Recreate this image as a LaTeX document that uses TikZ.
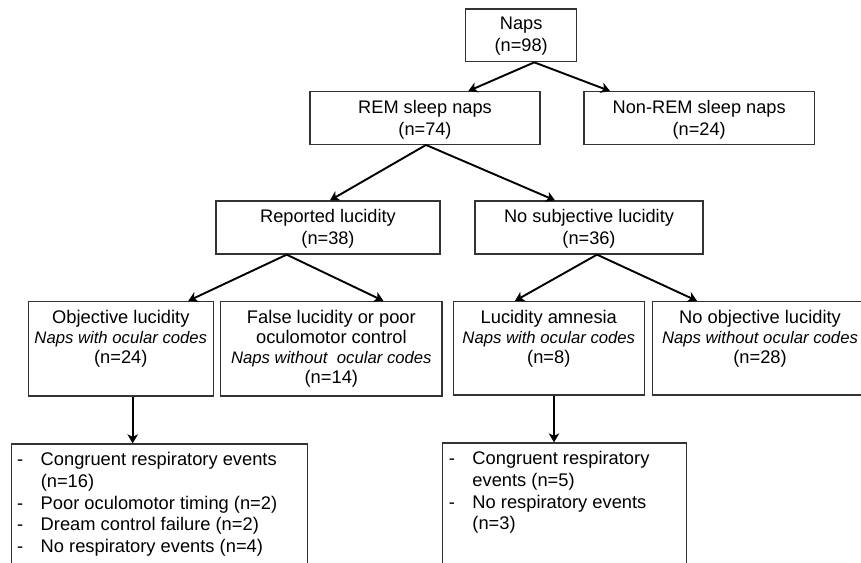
\documentclass[tikz,border=0pt]{standalone}
\usepackage{fontspec}
\setmainfont{Liberation Sans}
\usetikzlibrary{arrows.meta}
\newcommand\mydash{\makebox[23.6pt][l]{-}}
\newcommand\itl[1]{{\fontsize{16.7}{20}\selectfont\itshape #1}}
\begin{document}
\begin{tikzpicture}[x=1pt,y=-1pt,
  box/.style={draw=black!80, line width=1.3pt, rectangle, inner sep=0pt},
  ttext/.style={anchor=north, inner sep=0pt, align=center, font=\fontsize{18.2}{22}\selectfont},
  mtext/.style={anchor=north, inner sep=0pt, align=center, font=\fontsize{18.3}{20}\selectfont},
  btext/.style={anchor=north west, inner sep=0pt, align=left, font=\fontsize{18.3}{21.8}\selectfont},
  arr/.style={draw=black, line width=1.9pt, -{Stealth[length=9pt,width=10.5pt,inset=2.5pt]}},
]
\useasboundingbox (0,0) rectangle (861,562);
\clip (0,0) rectangle (861,562);
\fill[white] (0,0) rectangle (861,562);

% boxes
\node[box, minimum width=111pt,   minimum height=52.7pt] (naps)   at (521.2,35.35) {};
\node[box, minimum width=230pt,   minimum height=52.6pt] (rem)    at (425,118) {};
\node[box, minimum width=230.3pt, minimum height=52.6pt] (nonrem) at (699.2,118) {};
\node[box, minimum width=224pt,   minimum height=53pt]   (rep)    at (328,227.5) {};
\node[box, minimum width=228pt,   minimum height=53pt]   (nosub)  at (589,227.5) {};
\node[box, minimum width=185pt,   minimum height=94.5pt] (obj)    at (120.8,348.75) {};
\node[box, minimum width=221.3pt, minimum height=94.5pt] (fals)   at (331.35,348.75) {};
\node[box, minimum width=191pt,   minimum height=93.5pt] (amn)    at (548.8,348.25) {};
\node[box, minimum width=227.7pt, minimum height=93.5pt] (noobj)  at (766.15,348.25) {};
\node[box, minimum width=295.6pt, minimum height=156pt]  (bl)     at (159.5,522) {};
\node[box, minimum width=244pt,   minimum height=157pt]  (br)     at (564.7,521.5) {};

% texts
\node[ttext] (napsT)   at ([yshift=-8.6pt]naps.north)   {Naps\\(n=98)};
\node[ttext] (remT)    at ([yshift=-8.8pt]rem.north)    {REM sleep naps\\(n=74)};
\node[ttext] (nonremT) at ([yshift=-8.8pt]nonrem.north) {Non-REM sleep naps\\(n=24)};
\node[ttext] (repT)    at ([yshift=-8.8pt]rep.north)    {Reported lucidity\\(n=38)};
\node[ttext] (nosubT)  at ([yshift=-8.8pt]nosub.north)  {No subjective lucidity\\(n=36)};
\node[mtext] (objT)    at ([yshift=-9.2pt]obj.north)    {Objective lucidity\\\itl{Naps with ocular codes}\\(n=24)};
\node[mtext] (falsT)   at ([yshift=-9.2pt]fals.north)   {False lucidity or poor\\oculomotor control\\\itl{Naps without\ \ ocular codes}\\(n=14)};
\node[mtext] (amnT)    at ([yshift=-9.2pt]amn.north)    {Lucidity amnesia\\\itl{Naps with ocular codes}\\(n=8)};
\node[mtext] (noobjT)  at ([xshift=-6.15pt,yshift=-9.2pt]noobj.north)  {No objective lucidity\\\itl{Naps without ocular codes}\\(n=28)};
\node[btext] (blT) at ([xshift=5.9pt,yshift=-8.7pt]bl.north west)
  {\mydash Congruent respiratory events\\\hspace*{23.6pt}(n=16)\\\mydash Poor oculomotor timing (n=2)\\\mydash Dream control failure (n=2)\\\mydash No respiratory events (n=4)};
\node[btext] (brT) at ([xshift=6.6pt,yshift=-8.7pt]br.north west)
  {\mydash Congruent respiratory\\\hspace*{23.6pt}events (n=5)\\\mydash No respiratory events\\\hspace*{23.6pt}(n=3)};

% connectors
\draw[arr] ([xshift=13.1pt]naps.south) -- ([xshift=43.3pt]rem.north);
\draw[arr] ([xshift=13.1pt]naps.south) -- ([xshift=-89.2pt]nonrem.north);
\draw[arr] ([xshift=1pt]rem.south) -- ([xshift=2pt]rep.north);
\draw[arr] ([xshift=1pt]rem.south) -- ([xshift=-34pt]nosub.north);
\draw[arr] ([xshift=-41.3pt]rep.south) -- ([xshift=67.5pt]obj.north);
\draw[arr] ([xshift=-41.3pt]rep.south) -- ([xshift=52pt]fals.north);
\draw[arr] ([xshift=8pt]nosub.south) -- ([xshift=-33.8pt]amn.north);
\draw[arr] ([xshift=8pt]nosub.south) -- ([xshift=-69.15pt]noobj.north);
\draw[arr] ([xshift=11.9pt]obj.south) -- ([xshift=-26.8pt]bl.north);
\draw[arr] ([xshift=5.2pt]amn.south) -- ([xshift=-10.7pt]br.north);
\end{tikzpicture}
\end{document}
